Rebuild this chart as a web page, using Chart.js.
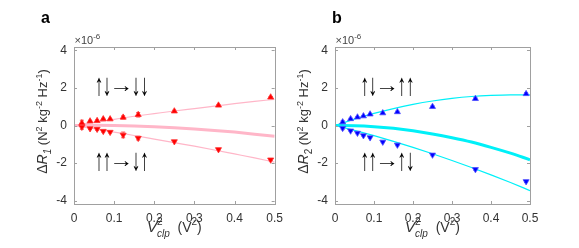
<!DOCTYPE html>
<html>
<head>
<meta charset="utf-8">
<script src="https://cdn.jsdelivr.net/npm/chart.js@4/dist/chart.umd.min.js"></script>
<style>
html, body { margin: 0; padding: 0; background: #fff; }
#wrap { position: relative; width: 579px; height: 248px; }
canvas { position: absolute; top: 0; }
</style>
</head>
<body>
<div id="wrap">
  <canvas id="chartA" width="290" height="248" style="left:0"></canvas>
  <canvas id="chartB" width="289" height="248" style="left:290px"></canvas>
</div>
<script>
// V_clp^2 values (V^2)
const vclp2 = [0.0196, 0.04, 0.0576, 0.0729, 0.09, 0.1225, 0.16, 0.25, 0.36, 0.49]

// panel a, delta R1 (x1e-6)
const r1Up = [0.13, 0.23, 0.25, 0.34, 0.34, 0.43, 0.57, 0.76, 1.07, 1.5]
const r1Down = [-0.08, -0.16, -0.19, -0.3, -0.35, -0.5, -0.67, -0.85, -1.27, -1.82]
const r1UpErr = [0.15, 0.04, 0.04, 0.04, 0.03, 0.08, 0.12, 0.05, 0.05, 0.04]
const r1DownErr = [0.12, 0.05, 0.06, 0.05, 0.04, 0.15, 0.1, 0.05, 0.05, 0.05]

// panel b, delta R2 (x1e-6)
const r2Up = [0.18, 0.35, 0.44, 0.5, 0.6, 0.66, 0.72, 1.0, 1.42, 1.68]
const r2Down = [-0.14, -0.28, -0.4, -0.53, -0.64, -0.87, -1.03, -1.56, -2.33, -2.97]
const r2UpErr = [0.08, 0.04, 0.04, 0.03, 0.04, 0.04, 0.05, 0.05, 0.06, 0.06]
const r2DownErr = [0.08, 0.04, 0.04, 0.04, 0.04, 0.04, 0.05, 0.05, 0.06, 0.06]

// fit curves
const fitX = [0, 0.05, 0.1, 0.15, 0.2, 0.25, 0.3, 0.35, 0.4, 0.45, 0.5]
const fitAUp = [0, 0.17, 0.33, 0.49, 0.63, 0.77, 0.9, 1.03, 1.16, 1.28, 1.39]
const fitADown = [0, -0.17, -0.35, -0.53, -0.72, -0.91, -1.1, -1.3, -1.51, -1.72, -1.95]
const fitASum = [0, 0.01, 0, -0.03, -0.07, -0.12, -0.18, -0.26, -0.35, -0.46, -0.57]
const fitBUp = [0, 0.34, 0.64, 0.9, 1.12, 1.3, 1.44, 1.54, 1.6, 1.63, 1.63]
const fitBDown = [0, -0.26, -0.54, -0.84, -1.16, -1.5, -1.86, -2.23, -2.62, -3.03, -3.46]
const fitBSum = [0, -0.01, -0.06, -0.15, -0.28, -0.45, -0.65, -0.88, -1.16, -1.47, -1.82]

const xTicks = [0, 0.1, 0.2, 0.3, 0.4, 0.5]
const yTicks = [-4, -2, 0, 2, 4]

const FONT = '"Liberation Sans", Arial, sans-serif'
const AXIS_COLOR = '#a0a0a0'
const TEXT_COLOR = '#333'

const pts = (xs, ys) => xs.map((x, i) => ({ x, y: ys[i] }))

// lay out text pieces; a piece with back:true sits under/over the one before it
function layout(ctx, parts) {
    let cx = 0, end = 0, prevX = 0
    parts.forEach(p => {
        ctx.font = (p.style || '') + ' ' + p.size + 'px ' + FONT
        const w = ctx.measureText(p.t).width
        if (p.back) cx = prevX
        p.x = cx
        prevX = cx
        cx = Math.max(end, cx + w)
        end = cx
    })
    return end
}

function richText(ctx, parts, x, y, align) {
    const w = layout(ctx, parts)
    const x0 = align === 'center' ? x - w / 2 : x
    parts.forEach(p => {
        ctx.font = (p.style || '') + ' ' + p.size + 'px ' + FONT
        ctx.fillText(p.t, x0 + p.x, y + (p.dy || 0))
    })
}

const decorPlugin = {
    id: 'decor',
    beforeDatasetsDraw(chart, args, opts) {
        const ctx = chart.ctx
        const { x, y } = chart.scales
        ctx.save()
        // error bars
        ctx.lineWidth = 1
        opts.errors.forEach(e => {
            ctx.strokeStyle = e.color
            vclp2.forEach((v, i) => {
                const px = x.getPixelForValue(v)
                const y1 = y.getPixelForValue(e.vals[i] - e.err[i])
                const y2 = y.getPixelForValue(e.vals[i] + e.err[i])
                ctx.beginPath()
                ctx.moveTo(px, y1); ctx.lineTo(px, y2)
                ctx.moveTo(px - 2, y1); ctx.lineTo(px + 2, y1)
                ctx.moveTo(px - 2, y2); ctx.lineTo(px + 2, y2)
                ctx.stroke()
            })
        })
        ctx.restore()
    },
    afterDraw(chart, args, opts) {
        const ctx = chart.ctx
        const { x, y } = chart.scales
        const a = chart.chartArea
        ctx.save()

        // box and inward ticks
        ctx.strokeStyle = AXIS_COLOR
        ctx.lineWidth = 1
        ctx.strokeRect(Math.round(a.left) + 0.5, Math.round(a.top) + 0.5,
            Math.round(a.right - a.left), Math.round(a.bottom - a.top))
        ctx.beginPath()
        xTicks.forEach(t => {
            const px = Math.round(x.getPixelForValue(t)) + 0.5
            ctx.moveTo(px, a.bottom); ctx.lineTo(px, a.bottom - 3)
            ctx.moveTo(px, a.top); ctx.lineTo(px, a.top + 3)
        })
        yTicks.forEach(t => {
            const py = Math.round(y.getPixelForValue(t)) + 0.5
            ctx.moveTo(a.left, py); ctx.lineTo(a.left + 3, py)
            ctx.moveTo(a.right, py); ctx.lineTo(a.right - 3, py)
        })
        ctx.stroke()

        ctx.textBaseline = 'alphabetic'

        // exponent label
        ctx.fillStyle = '#444'
        richText(ctx, [
            { t: '\u00d710', size: 11 },
            { t: '-6', size: 8, dy: -5 }
        ], a.left + 0.5, a.top - 3.5, 'left')

        // panel letter
        ctx.fillStyle = '#000'
        ctx.font = 'bold 16px ' + FONT
        ctx.fillText(opts.letter, opts.letterX, 23)

        // x title
        ctx.fillStyle = TEXT_COLOR
        richText(ctx, [
            { t: 'V', size: 15, style: 'italic' },
            { t: '2', size: 10, dy: -7 },
            { t: 'clp', size: 10, style: 'italic', dy: 5, back: true },
            { t: '  (V', size: 14 },
            { t: '2', size: 10, dy: -7 },
            { t: ')', size: 14 }
        ], (a.left + a.right) / 2, 232, 'center')

        // y title, rotated
        ctx.save()
        ctx.translate(a.left - 27, (a.top + a.bottom) / 2 - 4)
        ctx.rotate(-Math.PI / 2)
        richText(ctx, [
            { t: '\u0394', size: 14 },
            { t: 'R', size: 14, style: 'italic' },
            { t: opts.sub, size: 10, style: opts.subStyle, dy: 4 },
            { t: ' (N', size: 13 },
            { t: '2', size: 9, dy: -5 },
            { t: ' kg', size: 13 },
            { t: '-2', size: 9, dy: -5 },
            { t: ' Hz', size: 13 },
            { t: '-1', size: 9, dy: -5 },
            { t: ')', size: 13 }
        ], 0, 0, 'center')
        ctx.restore()

        // spin-flip arrows (stretched glyphs)
        ctx.fillStyle = '#000'
        ctx.font = 'bold 18px "Liberation Sans"'
        ctx.textAlign = 'center'
        ctx.textBaseline = 'middle'
        const offs = [0, 8, 22.5, 37, 45.5]
        opts.arrows.forEach(r => {
            const py = y.getPixelForValue(r.y) - 1.5
            const x0 = x.getPixelForValue(opts.arrowX)
            r.glyphs.forEach((g, i) => {
                ctx.save()
                ctx.translate(x0 + offs[i], py)
                if (g === '\u2192') ctx.scale(1.35, 1.1)
                else ctx.scale(1.0, 1.7)
                ctx.fillText(g, 0, 0)
                ctx.restore()
            })
        })
        ctx.restore()
    }
}

function makeChart(id, cfg) {
    const markers = [
        { label: 'up', data: pts(vclp2, cfg.up), pointStyle: 'triangle', pointRotation: 0 },
        { label: 'down', data: pts(vclp2, cfg.down), pointStyle: 'triangle', pointRotation: 180 }
    ].map(d => Object.assign(d, {
        type: 'scatter', order: 0, showLine: false,
        pointRadius: 3.5, pointBackgroundColor: cfg.mark, pointBorderColor: cfg.markEdge,
        pointBorderWidth: 0.8
    }))
    const lines = [
        { data: pts(fitX, cfg.fitUp), borderWidth: 1.2 },
        { data: pts(fitX, cfg.fitDown), borderWidth: 1.2 },
        { data: pts(fitX, cfg.fitSum), borderWidth: 3 }
    ].map(d => Object.assign(d, {
        type: 'line', order: 1, borderColor: cfg.line, pointRadius: 0,
        cubicInterpolationMode: 'monotone', fill: false
    }))

    return new Chart(document.getElementById(id), {
        data: { datasets: [...markers, ...lines] },
        options: {
            responsive: false,
            animation: false,
            events: [],
            layout: { padding: { left: 0, right: cfg.padRight, top: 47, bottom: 0 } },
            scales: {
                x: {
                    type: 'linear', min: 0, max: 0.5,
                    afterFit: s => { s.height = 44 },
                    border: { display: false },
                    grid: { display: false, drawTicks: false },
                    ticks: {
                        stepSize: 0.1, padding: 7, color: TEXT_COLOR,
                        font: { family: FONT, size: 12 },
                        callback: v => String(+v.toFixed(1)),
                        maxRotation: 0
                    }
                },
                y: {
                    type: 'linear', min: -4.17, max: 4.17,
                    afterFit: s => { s.width = cfg.yWidth },
                    border: { display: false },
                    grid: { display: false, drawTicks: false },
                    ticks: {
                        stepSize: 2, includeBounds: false, padding: 7, color: TEXT_COLOR,
                        font: { family: FONT, size: 12 }
                    }
                }
            },
            plugins: {
                legend: { display: false },
                tooltip: { enabled: false },
                decor: {
                    letter: cfg.letter, letterX: cfg.letterX,
                    sub: cfg.sub, subStyle: cfg.subStyle,
                    errors: [
                        { vals: cfg.up, err: cfg.upErr, color: cfg.errColor },
                        { vals: cfg.down, err: cfg.downErr, color: cfg.errColor }
                    ],
                    arrows: cfg.arrows, arrowX: cfg.arrowX
                }
            }
        },
        plugins: [decorPlugin]
    })
}

makeChart('chartA', {
    up: r1Up, down: r1Down, upErr: r1UpErr, downErr: r1DownErr,
    fitUp: fitAUp, fitDown: fitADown, fitSum: fitASum,
    mark: '#ff0000', markEdge: '#ff3030', errColor: '#ff5050', line: '#ffb6c8',
    letter: 'a', letterX: 41, sub: '1', subStyle: 'italic',
    yWidth: 74, padRight: 13, arrowX: 0.062,
    arrows: [
        { y: 2, glyphs: ['\u2191', '\u2193', '\u2192', '\u2193', '\u2193'] },
        { y: -2, glyphs: ['\u2191', '\u2191', '\u2192', '\u2193', '\u2191'] }
    ]
})

makeChart('chartB', {
    up: r2Up, down: r2Down, upErr: r2UpErr, downErr: r2DownErr,
    fitUp: fitBUp, fitDown: fitBDown, fitSum: fitBSum,
    mark: '#0000ff', markEdge: '#5050ff', errColor: '#6a6aff', line: '#00f0f8',
    letter: 'b', letterX: 42, sub: '2', subStyle: '',
    yWidth: 45, padRight: 49, arrowX: 0.076,
    arrows: [
        { y: 2, glyphs: ['\u2191', '\u2193', '\u2192', '\u2191', '\u2191'] },
        { y: -2, glyphs: ['\u2191', '\u2191', '\u2192', '\u2191', '\u2193'] }
    ]
})
</script>
</body>
</html>
